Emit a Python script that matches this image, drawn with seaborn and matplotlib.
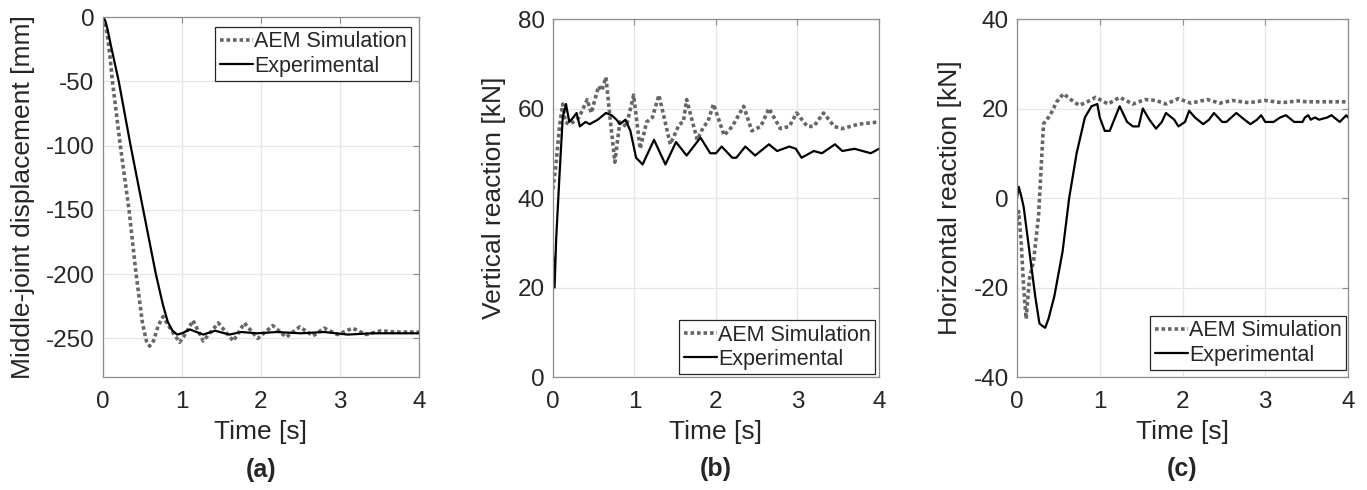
import numpy as np
import pandas as pd
import matplotlib
matplotlib.use("Agg")
import matplotlib.pyplot as plt
import seaborn as sns

# (a) middle-joint displacement [mm]
a_sim_t = [0, 0.03, 0.06, 0.09, 0.12, 0.22, 0.33, 0.42, 0.50, 0.55, 0.59, 0.64, 0.70, 0.76, 0.86, 0.97,
           1.05, 1.14, 1.27, 1.46, 1.65, 1.79, 1.96, 2.15, 2.32, 2.49, 2.66, 2.80, 2.97, 3.16, 3.33,
           3.52, 3.70, 4.0]
a_sim_v = [0, -5, -16, -31, -50, -100, -150, -200, -238, -252, -256, -252, -240, -233, -243, -253,
           -246, -236, -252, -238, -252, -238, -250, -240, -249, -241, -248, -242, -247, -242, -247,
           -244, -245, -245]
a_exp_t = [0, 0.03, 0.06, 0.1, 0.15, 0.2, 0.35, 0.51, 0.67, 0.76, 0.82, 0.88, 0.94, 1.0, 1.1, 1.27,
           1.42, 1.6, 1.75, 1.95, 2.2, 2.5, 2.8, 3.1, 3.4, 3.7, 4.0]
a_exp_v = [0, -3, -10, -22, -36, -50, -100, -150, -200, -224, -237, -244, -247, -246, -243, -247,
           -244, -247, -245, -246, -245, -246, -245, -247, -246, -246, -246]

# (b) vertical reaction [kN]
b_sim_t = [0, 0.04, 0.08, 0.12, 0.15, 0.2, 0.25, 0.32, 0.42, 0.47, 0.56, 0.6, 0.65, 0.70, 0.76, 0.82,
           0.9, 0.99, 1.07, 1.15, 1.22, 1.30, 1.44, 1.55, 1.60, 1.64, 1.77, 1.85, 1.90, 1.97, 2.10,
           2.20, 2.34, 2.44, 2.55, 2.65, 2.79, 2.90, 2.99, 3.12, 3.20, 3.32, 3.45, 3.55, 3.75, 4.0]
b_sim_v = [42, 48, 56, 61, 57, 56.5, 57, 58, 62, 59, 65, 64, 67, 58, 48, 57,
           56, 63, 51, 57, 58, 63, 52, 56.5, 57, 62, 53, 56, 57, 61, 54,
           56, 60.5, 55, 56, 60, 55.5, 56, 59, 56, 56, 59, 56, 55.5, 56.5, 57]
b_exp_t = [0, 0.02, 0.04, 0.08, 0.12, 0.16, 0.2, 0.25, 0.29, 0.33, 0.4, 0.45, 0.5, 0.55, 0.65, 0.72,
           0.78, 0.82, 0.89, 0.95, 1.02, 1.1, 1.24, 1.38, 1.51, 1.64, 1.81, 1.93, 2.0, 2.07, 2.2,
           2.25, 2.36, 2.48, 2.65, 2.75, 2.9, 2.98, 3.05, 3.2, 3.3, 3.46, 3.55, 3.7, 3.9, 4.0]
b_exp_v = [28, 20, 31, 45, 58, 61, 57, 58, 59, 56, 57, 56.5, 57, 57.5, 59, 58.5,
           57.5, 56.5, 57.5, 55, 49, 47.5, 53, 47.5, 52.5, 49.5, 53.5, 50, 50, 51.5, 49,
           49, 51.5, 49.5, 52, 50.5, 51.5, 51, 49, 50.5, 50, 52, 50.5, 51, 50, 51]

# (c) horizontal reaction [kN]
c_sim_t = [0, 0.02, 0.05, 0.08, 0.11, 0.15, 0.2, 0.26, 0.32, 0.4, 0.48, 0.56, 0.65, 0.75, 0.85, 0.95,
           1.1, 1.24, 1.4, 1.55, 1.68, 1.8, 1.95, 2.1, 2.3, 2.45, 2.6, 2.8, 3.0, 3.2, 3.4,
           3.5, 3.7, 4.0]
c_sim_v = [-5, -3, -10, -20, -27, -18, -14, -4, 16.6, 18.5, 21.5, 23.3, 22, 20.7, 21.5, 22.5,
           21, 22.5, 21, 22, 21.8, 21, 22.2, 21.2, 22, 21.2, 21.8, 21.3, 21.8, 21.3, 21.7,
           21.5, 21.5, 21.5]
c_exp_t = [0, 0.02, 0.05, 0.08, 0.15, 0.22, 0.27, 0.3, 0.34, 0.38, 0.45, 0.55, 0.63, 0.72, 0.82,
           0.9, 0.97, 1.0, 1.06, 1.12, 1.24, 1.33, 1.4, 1.47, 1.52, 1.6, 1.68, 1.75, 1.8, 1.9,
           1.95, 2.03, 2.08, 2.15, 2.25, 2.32, 2.38, 2.48, 2.53, 2.65, 2.75, 2.82, 2.9, 2.95,
           3.0, 3.1, 3.18, 3.25, 3.35, 3.45, 3.48, 3.52, 3.55, 3.6, 3.65, 3.75, 3.8, 3.9, 3.98, 4.0]
c_exp_v = [0, 2.5, 0.5, -2, -12, -22, -28, -28.5, -29, -27, -22, -12, 0, 10, 18,
           20.5, 21, 18, 15, 15, 20.5, 17, 16, 16, 20, 17.5, 15.5, 17, 19, 17.5,
           16, 17, 19.5, 18, 16.5, 17.5, 19, 17, 17, 19, 17.5, 16.5, 17.5, 18.5,
           17, 17, 18, 18.5, 17, 17, 18, 18.5, 17.5, 18, 17.5, 18, 18.5, 17, 18.5, 18]

sns.set_style("whitegrid")
plt.rcParams['font.family'] = ['Liberation Sans', 'DejaVu Sans']
plt.rcParams['axes.unicode_minus'] = False

fig = plt.figure(figsize=(13.67, 4.9), dpi=100)

panels = [
    ([0.0753, 0.2306, 0.2312, 0.7347], a_sim_t, a_sim_v, a_exp_t, a_exp_v,
     "Middle-joint displacement [mm]", (-280, 0), np.arange(-250, 1, 50), "upper right",
     (0.975, 0.972), "(a)"),
    ([0.4045, 0.2306, 0.2385, 0.7306], b_sim_t, b_sim_v, b_exp_t, b_exp_v,
     "Vertical reaction [kN]", (0, 80), np.arange(0, 81, 20), "lower right",
     (0.988, 0.008), "(b)"),
    ([0.7440, 0.2306, 0.2421, 0.7306], c_sim_t, c_sim_v, c_exp_t, c_exp_v,
     "Horizontal reaction [kN]", (-40, 40), np.arange(-40, 41, 20), "lower right",
     (0.994, 0.02), "(c)"),
]

for rect, st, sv, et, ev, ylabel, ylim, yticks, loc, anchor, tag in panels:
    ax = fig.add_axes(rect)
    sim = pd.DataFrame({"t": st, "v": sv})
    exp = pd.DataFrame({"t": et, "v": ev})
    sns.lineplot(data=sim, x="t", y="v", ax=ax, color="#666666", linewidth=2.6,
                 linestyle=(0, (1, 0.8)), label="AEM Simulation")
    sns.lineplot(data=exp, x="t", y="v", ax=ax, color="black", linewidth=1.6,
                 label="Experimental")
    ax.set_xlim(0, 4)
    ax.set_ylim(*ylim)
    ax.set_xticks([0, 1, 2, 3, 4])
    ax.set_yticks(yticks)
    ax.grid(True, color="#e6e6e6", linewidth=0.9)
    for sp in ax.spines.values():
        sp.set_color("#8c8c8c")
        sp.set_linewidth(0.9)
    ax.tick_params(direction="in", length=4, color="#8c8c8c", labelsize=17.5,
                   labelcolor="#262626", top=True, right=True)
    ax.tick_params(axis="x", pad=10)
    ax.tick_params(axis="y", pad=6)
    ax.set_xlabel("Time [s]", fontsize=19, color="#262626", labelpad=5)
    ax.set_ylabel(ylabel, fontsize=19, color="#262626", labelpad=8)
    leg = ax.legend(loc=loc, bbox_to_anchor=anchor, fontsize=15.5, frameon=True,
                    fancybox=False, handlelength=1.55, handletextpad=0.05,
                    borderpad=0.2, labelspacing=0.15, borderaxespad=0)
    leg.get_frame().set_edgecolor("#262626")
    leg.get_frame().set_linewidth(0.9)
    leg.get_frame().set_alpha(1)
    ax.text(0.5, -0.258, tag, transform=ax.transAxes, ha="center", va="center",
            fontsize=18, fontweight="bold", color="#262626")

fig.savefig("out.png", dpi=100)
